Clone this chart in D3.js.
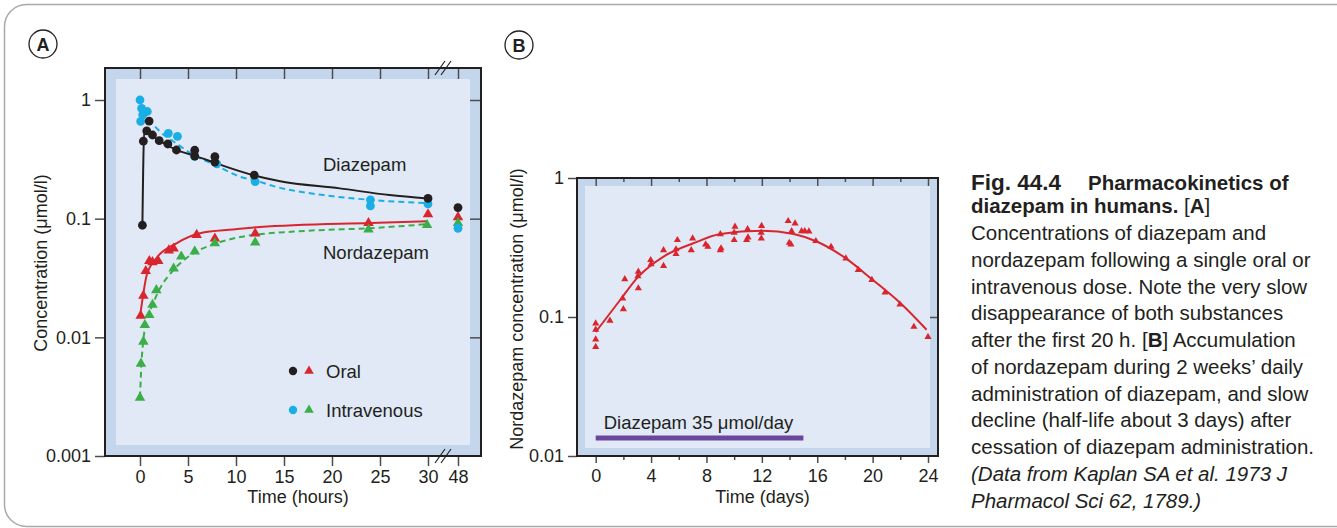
<!DOCTYPE html>
<html>
<head>
<meta charset="utf-8">
<script src="https://cdn.jsdelivr.net/npm/d3@7"></script>
<style>
  body { margin: 0; background: #fff; }
  svg { display: block; font-family: "Liberation Sans", Arial, Helvetica, sans-serif; }
</style>
</head>
<body>
<svg id="fig" width="1337" height="528"></svg>
<script>
// ---- data ----
const hourTicks = [0, 5, 10, 15, 20, 25, 30, 48];
const concTicksA = [0.001, 0.01, 0.1, 1];
const dayTicks = [0, 4, 8, 12, 16, 20, 24];
const dayMinorTicks = [2, 6, 10, 14, 18, 22];
const concTicksB = [0.01, 0.1, 1];

// panel A points: [hours, µmol/l]
const diazOral = [[0.25, 0.088], [0.35, 0.45], [0.7, 0.55], [0.95, 0.665], [1.3, 0.507], [2, 0.454],
  [2.9, 0.426], [3.8, 0.379], [5.7, 0.377], [5.7, 0.337], [7.8, 0.333], [7.8, 0.30], [11.9, 0.233],
  [30, 0.148], [48, 0.124]];
const diazIV = [[0, 1.0], [0.17, 0.85], [0.76, 0.8], [0.28, 0.75], [0.07, 0.66], [2.95, 0.524],
  [3.9, 0.494], [5.7, 0.335], [8, 0.29], [12, 0.205], [24, 0.144], [24, 0.128], [30, 0.133], [48, 0.083]];
const nordOral = [[0.07, 0.0152], [0.35, 0.0224], [0.6, 0.0362], [0.97, 0.044], [1.3, 0.043],
  [1.9, 0.044], [3, 0.054], [3.5, 0.056], [5.9, 0.073], [7.8, 0.068], [12, 0.075], [23.8, 0.092],
  [30, 0.109], [48, 0.103]];
const nordIV = [[0, 0.0031], [0.1, 0.006], [0.35, 0.0092], [0.5, 0.0127], [0.97, 0.0154], [1.3, 0.0188],
  [1.7, 0.025], [3.5, 0.038], [4.3, 0.048], [5.7, 0.053], [7.8, 0.062], [12, 0.063], [23.8, 0.081],
  [29.9, 0.0885], [48, 0.092]];

// fitted curves in panel A
const diazOralFit = [[0.25, 0.088], [0.45, 0.56], [1, 0.52], [1.4, 0.49], [2.5, 0.43], [3.8, 0.38],
  [5.9, 0.335], [7.8, 0.295], [12, 0.23], [14.6, 0.207], [20.8, 0.18], [26, 0.158], [30, 0.148]];
const diazIVFit = [[0.2, 0.8], [0.7, 0.72], [2, 0.55], [3.8, 0.43], [5.7, 0.34], [7.8, 0.285],
  [10.4, 0.226], [12, 0.21], [13.9, 0.188], [19.1, 0.158], [24, 0.144], [30, 0.135]];
const nordOralFit = [[0, 0.0149], [0.3, 0.022], [0.7, 0.0335], [1.7, 0.0464], [3.8, 0.062],
  [6.25, 0.0753], [9.7, 0.081], [12.5, 0.085], [24, 0.092], [30, 0.095]];
const nordIVFit = [[0, 0.0031], [0.15, 0.006], [0.35, 0.0095], [0.7, 0.0141], [1.2, 0.018],
  [2.1, 0.026], [3.5, 0.037], [5.55, 0.051], [8, 0.062], [10.4, 0.07], [17.4, 0.079], [23.8, 0.083],
  [30, 0.09]];

// panel B: [days, µmol/l]
const nordDaily = [[0, 0.09], [0, 0.081], [0, 0.069], [0, 0.061], [1.03, 0.094], [1.95, 0.136],
  [2.0, 0.114], [2.1, 0.187], [3.08, 0.212], [3.05, 0.197], [3.08, 0.161], [3.97, 0.257], [4.0, 0.24],
  [4.9, 0.303], [4.9, 0.233], [5.8, 0.307], [5.9, 0.358], [5.8, 0.284], [6.9, 0.303], [7.0, 0.368],
  [7.94, 0.333], [8.1, 0.32], [9.0, 0.303], [9.0, 0.395], [9.05, 0.312], [10.06, 0.447], [10.0, 0.404],
  [10.0, 0.358], [10.97, 0.428], [11.0, 0.374], [10.9, 0.358], [11.98, 0.452], [11.95, 0.404],
  [11.96, 0.368], [13.9, 0.49], [14.4, 0.472], [14.15, 0.415], [13.98, 0.342], [14.1, 0.333],
  [14.87, 0.415], [15.1, 0.415], [15.4, 0.413], [15.9, 0.352], [17.0, 0.32], [18.07, 0.264],
  [18.96, 0.218], [19.95, 0.185], [20.9, 0.15], [21.97, 0.123], [22.98, 0.085], [24.0, 0.072]];
const nordDailyFit = [[0, 0.078], [1.75, 0.132], [3.08, 0.195], [4.9, 0.272], [7.05, 0.339],
  [9, 0.395], [12, 0.418], [14.3, 0.395], [16, 0.348], [18.07, 0.264], [19.95, 0.187], [22, 0.126],
  [23.9, 0.081]];
const dosingDays = [0, 15];

const captionLines = [
  [["Fig. 44.4", "fig"], ["Pharmacokinetics of", "bold", 1088]],
  [["diazepam in humans. ", "bold"], ["[", "normal"], ["A", "bold"], ["]", "normal"]],
  [["Concentrations of diazepam and"]],
  [["nordazepam following a single oral or"]],
  [["intravenous dose. Note the very slow"]],
  [["disappearance of both substances"]],
  [["after the first 20 h. [", "normal"], ["B", "bold"], ["] Accumulation", "normal"]],
  [["of nordazepam during 2 weeks\u2019 daily"]],
  [["administration of diazepam, and slow"]],
  [["decline (half-life about 3 days) after"]],
  [["cessation of diazepam administration."]],
  [["(Data from Kaplan SA et al. 1973 J", "italic"]],
  [["Pharmacol Sci 62, 1789.)", "italic"]]
];

// ---- styles ----
const ink = "#231f20", tickInk = "#4d4d4f";
const cBlue = "#1aaee6", cRed = "#d9262e", cGreen = "#3cae49", cPurple = "#6a479d";
const band = "#c4d6ec", inner = "#e0e9f5";

const svg = d3.select("#fig");

// outer rounded border
svg.append("rect")
  .attr("x", 4.5).attr("y", 4.5).attr("width", 1400).attr("height", 522)
  .attr("rx", 22).attr("fill", "none").attr("stroke", "#a7a9ac").attr("stroke-width", 1.5);

function panelLetter(cx, cy, txt) {
  svg.append("circle").attr("cx", cx).attr("cy", cy).attr("r", 14)
    .attr("fill", "#fff").attr("stroke", ink).attr("stroke-width", 1.3);
  svg.append("text").attr("x", cx).attr("y", cy + 6.5).attr("text-anchor", "middle")
    .attr("font-size", 18).attr("font-weight", "bold").attr("fill", ink).text(txt);
}

function frame(l, t, r, b, w) {
  svg.append("rect").attr("x", l).attr("y", t).attr("width", r - l).attr("height", b - t).attr("fill", band);
  svg.append("rect").attr("x", l + w).attr("y", t + w).attr("width", r - l - 2 * w).attr("height", b - t - 2 * w).attr("fill", inner);
}

function styleAxis(g) {
  g.select(".domain").remove();
  g.selectAll(".tick line").attr("stroke", tickInk).attr("stroke-width", 1.5);
  g.selectAll(".tick text").attr("fill", ink).attr("font-size", 18).attr("font-family", null);
}

// ================= Panel A =================
const A = { l: 105, t: 68, r: 481, b: 456 };
const xA = d3.scaleLinear().domain([0, 30, 48]).range([140, 428, 458]);
const yA = d3.scaleLog().domain([0.001, 1]).range([456, 100]);

panelLetter(43, 44, "A");
frame(A.l, A.t, A.r, A.b, 11);

svg.append("g").attr("transform", `translate(0,${A.b})`)
  .call(d3.axisBottom(xA).tickValues(hourTicks).tickSize(10).tickPadding(4).tickFormat(d3.format("d")))
  .call(styleAxis);
svg.append("g").attr("transform", `translate(0,${A.t})`)
  .call(d3.axisBottom(xA).tickValues(hourTicks).tickSize(11).tickFormat(""))
  .call(styleAxis);
svg.append("g").attr("transform", `translate(${A.l},0)`)
  .call(d3.axisLeft(yA).tickValues(concTicksA).tickSize(10).tickPadding(4).tickFormat(d => String(d)))
  .call(styleAxis);
svg.append("g").attr("transform", `translate(${A.r},0)`)
  .call(d3.axisLeft(yA).tickValues(concTicksA.slice(1)).tickSize(11).tickFormat(""))
  .call(styleAxis);

svg.append("rect").attr("x", A.l).attr("y", A.t).attr("width", A.r - A.l).attr("height", A.b - A.t)
  .attr("fill", "none").attr("stroke", ink).attr("stroke-width", 2);

// axis break marks
const breakX = (xA(30) + xA(48)) / 2;
[A.t, A.b].forEach(yy => {
  [-3, 3].forEach(off => {
    svg.append("line")
      .attr("x1", breakX + off - 5).attr("y1", yy + 7)
      .attr("x2", breakX + off + 5).attr("y2", yy - 7)
      .attr("stroke", ink).attr("stroke-width", 1.2);
  });
});

const lineA = d3.line().x(d => xA(d[0])).y(d => yA(d[1])).curve(d3.curveMonotoneX);
svg.append("path").datum(diazIVFit).attr("d", lineA).attr("fill", "none")
  .attr("stroke", cBlue).attr("stroke-width", 2).attr("stroke-dasharray", "6,4");
svg.append("path").datum(diazOralFit).attr("d", lineA).attr("fill", "none")
  .attr("stroke", ink).attr("stroke-width", 2);
svg.append("path").datum(nordIVFit).attr("d", lineA).attr("fill", "none")
  .attr("stroke", cGreen).attr("stroke-width", 2).attr("stroke-dasharray", "6,4");
svg.append("path").datum(nordOralFit).attr("d", lineA).attr("fill", "none")
  .attr("stroke", cRed).attr("stroke-width", 2);

const triA = d3.symbol(d3.symbolTriangle, 48);
function dotsA(data, color) {
  svg.append("g").selectAll("circle").data(data).enter().append("circle")
    .attr("cx", d => xA(d[0])).attr("cy", d => yA(d[1])).attr("r", 4.4).attr("fill", color);
}
function trisA(data, color) {
  svg.append("g").selectAll("path").data(data).enter().append("path")
    .attr("d", triA).attr("transform", d => `translate(${xA(d[0])},${yA(d[1])})`).attr("fill", color);
}
trisA(nordOral, cRed);
trisA(nordIV, cGreen);
dotsA(diazIV, cBlue);
dotsA(diazOral, ink);

svg.append("text").attr("x", 323).attr("y", 171).attr("font-size", 18.5).attr("fill", ink).text("Diazepam");
svg.append("text").attr("x", 323).attr("y", 259).attr("font-size", 18.5).attr("fill", ink).text("Nordazepam");

// legend
const legendA = [["Oral", ink, cRed, 371], ["Intravenous", cBlue, cGreen, 410]];
legendA.forEach(([label, cDot, cTri, yy]) => {
  svg.append("circle").attr("cx", 293).attr("cy", yy).attr("r", 4.2).attr("fill", cDot);
  svg.append("path").attr("d", d3.symbol(d3.symbolTriangle, 40)()).attr("transform", `translate(309,${yy})`).attr("fill", cTri);
  svg.append("text").attr("x", 326).attr("y", yy + 6.5).attr("font-size", 18.5).attr("fill", ink).text(label);
});

svg.append("text").attr("x", (A.l + A.r) / 2 + 5).attr("y", 503).attr("text-anchor", "middle")
  .attr("font-size", 18).attr("fill", ink).text("Time (hours)");
svg.append("text").attr("transform", "translate(47,263) rotate(-90)").attr("text-anchor", "middle")
  .attr("font-size", 18).attr("fill", ink).text("Concentration (\u03bcmol/l)");

// ================= Panel B =================
const B = { l: 577, t: 178, r: 938, b: 456 };
const xB = d3.scaleLinear().domain([0, 24]).range([595.7, 928]);
const yB = d3.scaleLog().domain([0.01, 1]).range([456, 178]);

panelLetter(519, 45, "B");
frame(B.l, B.t, B.r, B.b, 8);

svg.append("g").attr("transform", `translate(0,${B.b})`)
  .call(d3.axisBottom(xB).tickValues(dayTicks).tickSize(7).tickPadding(6))
  .call(styleAxis);
svg.append("g").attr("transform", `translate(0,${B.b})`)
  .call(d3.axisBottom(xB).tickValues(dayMinorTicks).tickSize(4).tickFormat(""))
  .call(styleAxis);
svg.append("g").attr("transform", `translate(0,${B.t})`)
  .call(d3.axisBottom(xB).tickValues(dayTicks).tickSize(8).tickFormat(""))
  .call(styleAxis);
svg.append("g").attr("transform", `translate(0,${B.t})`)
  .call(d3.axisBottom(xB).tickValues(dayMinorTicks).tickSize(4).tickFormat(""))
  .call(styleAxis);
svg.append("g").attr("transform", `translate(${B.l},0)`)
  .call(d3.axisLeft(yB).tickValues(concTicksB).tickSize(9).tickPadding(4).tickFormat(d => String(d)))
  .call(styleAxis);
svg.append("g").attr("transform", `translate(${B.r},0)`)
  .call(d3.axisLeft(yB).tickValues([0.1]).tickSize(8).tickFormat(""))
  .call(styleAxis);

svg.append("rect").attr("x", B.l).attr("y", B.t).attr("width", B.r - B.l).attr("height", B.b - B.t)
  .attr("fill", "none").attr("stroke", ink).attr("stroke-width", 2);

const lineB = d3.line().x(d => xB(d[0])).y(d => yB(d[1])).curve(d3.curveMonotoneX);
svg.append("path").datum(nordDailyFit).attr("d", lineB).attr("fill", "none")
  .attr("stroke", cRed).attr("stroke-width", 2);

const triB = d3.symbol(d3.symbolTriangle, 22);
svg.append("g").selectAll("path").data(nordDaily).enter().append("path")
  .attr("d", triB).attr("transform", d => `translate(${xB(d[0])},${yB(d[1])})`).attr("fill", cRed);

svg.append("rect").attr("x", xB(dosingDays[0])).attr("y", 435.5)
  .attr("width", xB(dosingDays[1]) - xB(dosingDays[0])).attr("height", 5).attr("fill", cPurple);
svg.append("text").attr("x", xB(dosingDays[0]) + 8).attr("y", 429).attr("font-size", 18.5)
  .attr("fill", ink).text("Diazepam 35 \u03bcmol/day");

svg.append("text").attr("x", (B.l + B.r) / 2 + 5).attr("y", 503).attr("text-anchor", "middle")
  .attr("font-size", 18).attr("fill", ink).text("Time (days)");
svg.append("text").attr("transform", "translate(523,309) rotate(-90)").attr("text-anchor", "middle")
  .attr("font-size", 18).attr("fill", ink).text("Nordazepam concentration (\u03bcmol/l)");

// ================= Caption =================
const cap = svg.append("g").attr("fill", ink).attr("font-size", 20.5);
captionLines.forEach((segs, i) => {
  const yy = i < 2 ? 190 + i * 23 : 240 + (i - 2) * 26.75;
  const t = cap.append("text").attr("x", 971).attr("y", yy);
  segs.forEach(([s, st, xx]) => {
    const ts = t.append("tspan").text(s);
    if (st === "bold") ts.attr("font-weight", "bold");
    if (st === "fig") ts.attr("font-weight", 900).attr("font-size", 22.5);
    if (st === "italic") ts.attr("font-style", "italic");
    if (xx) ts.attr("x", xx);
  });
});
</script>
</body>
</html>
